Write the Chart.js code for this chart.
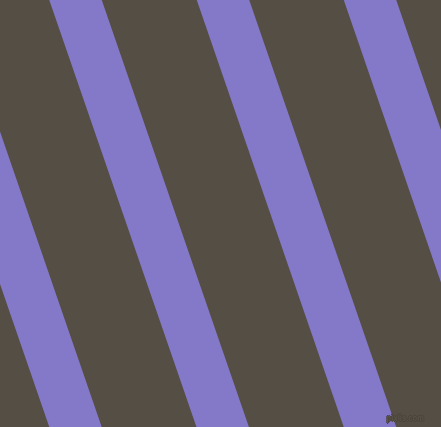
<!DOCTYPE html>
<html>
<head>
<meta charset="utf-8">
<script src="https://cdn.jsdelivr.net/npm/chart.js@4/dist/chart.umd.min.js"></script>
<style>
  html, body { margin: 0; padding: 0; background: #554e44; }
  #wrap { position: relative; width: 441px; height: 427px; background: #554e44; overflow: hidden; }
  #mark {
    position: absolute; right: 17px; bottom: 4px;
    font: bold 9px "Liberation Sans", sans-serif; color: #5a5348;
    transform: scaleX(0.85); transform-origin: right bottom;
    text-shadow: -1px 0 #4a443b, 1px 0 #4a443b, 0 -1px #4a443b, 0 1px #4a443b;
  }
</style>
</head>
<body>
<div id="wrap">
  <canvas id="stripes" width="441" height="427"></canvas>
  <div id="mark">pixlis.com</div>
</div>
<script>
// Stripe centre lines: x where each stripe meets the top and the bottom edge
const stripeTopX = [-71.5, 75.5, 223, 370];
const stripeBottomX = [75.5, 222.7, 370, 517];
const edgeY = [0, 427];

const stripeColor = '#8479c8';

// One dataset per stripe, drawn as a thick line between its two edge points
const datasets = stripeTopX.map((top, i) => ({
    data: [{ x: top, y: edgeY[0] }, { x: stripeBottomX[i], y: edgeY[1] }],
    borderColor: stripeColor,
    borderWidth: 49.6,
    borderCapStyle: 'square',
    pointRadius: 0,
    showLine: true,
    fill: false
}));

new Chart(document.getElementById('stripes').getContext('2d'), {
    type: 'scatter',
    data: { datasets },
    options: {
        responsive: false,
        animation: false,
        layout: { padding: 0 },
        scales: {
            x: { type: 'linear', min: 0, max: 441, display: false },
            y: { type: 'linear', min: 0, max: 427, reverse: true, display: false }
        },
        plugins: {
            legend: { display: false },
            tooltip: { enabled: false }
        }
    }
});
</script>
</body>
</html>
